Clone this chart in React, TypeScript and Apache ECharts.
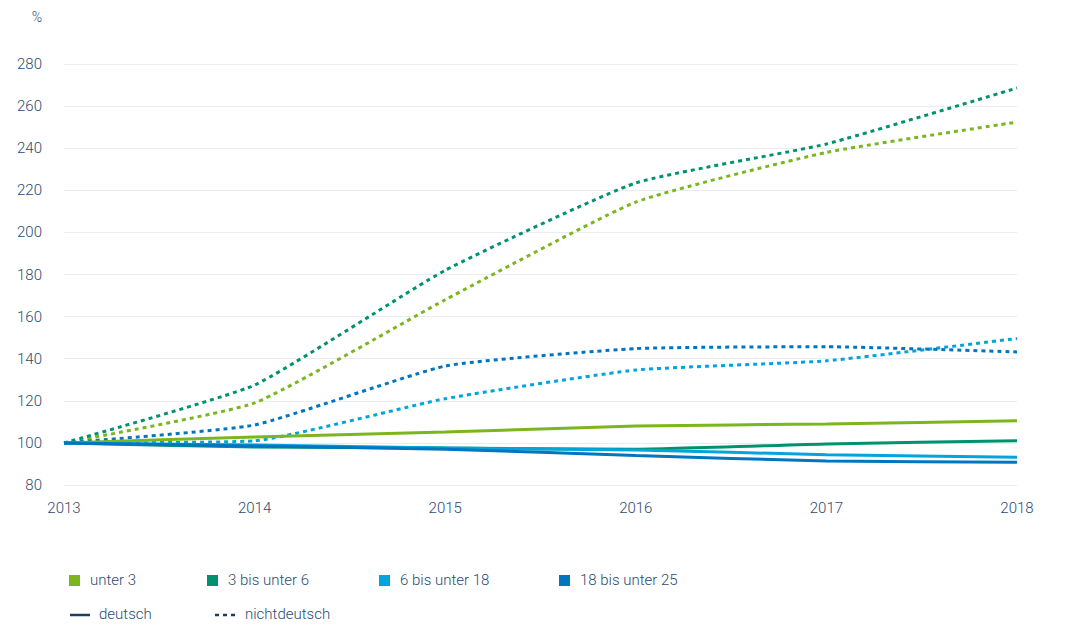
import React, { useEffect, useRef } from "react";
import * as echarts from "echarts";

const years = ["2013", "2014", "2015", "2016", "2017", "2018"];
const groups = ["unter 3", "3 bis unter 6", "6 bis unter 18", "18 bis unter 25"];
const colors = ["#7cb61e", "#00926f", "#00a5dd", "#0076bf"];

const deutschUnter3 = [100, 102.8, 105.2, 108, 109, 110.5];
const deutsch3bis6 = [100, 98, 97.6, 97, 99.5, 101];
const deutsch6bis18 = [100, 99, 97.6, 96.6, 94.4, 93.2];
const deutsch18bis25 = [100, 98.5, 97, 94, 91.4, 90.8];

const nichtUnter3 = [100, 119, 168, 214.4, 238, 252.4];
const nicht3bis6 = [100, 127.5, 182, 223.5, 242, 268.6];
const nicht6bis18 = [100, 101, 121, 134.6, 139, 149.6];
const nicht18bis25 = [100, 108.5, 136.5, 144.8, 145.7, 143.2];

const deutschData = [deutschUnter3, deutsch3bis6, deutsch6bis18, deutsch18bis25];
const nichtData = [nichtUnter3, nicht3bis6, nicht6bis18, nicht18bis25];

const textColor = "#2b4b70";
const font = "Roboto, 'Liberation Sans', Arial, sans-serif";

export default function App() {
  const ref = useRef<HTMLDivElement>(null);
  useEffect(() => {
    if (!ref.current) return;
    const chart = echarts.init(ref.current, null, { renderer: "svg" });
    const series: any[] = [];
    groups.forEach((g, i) => {
      series.push({
        name: g + " nichtdeutsch",
        type: "line",
        data: nichtData[i],
        smooth: 0.15,
        symbol: "none",
        lineStyle: { color: colors[i], width: 3, type: [4, 4], cap: "butt" },
        itemStyle: { color: colors[i] },
        z: 2,
      });
    });
    groups.forEach((g, i) => {
      series.push({
        name: g + " deutsch",
        type: "line",
        data: deutschData[i],
        smooth: 0.15,
        symbol: "none",
        lineStyle: { color: colors[i], width: 3 },
        itemStyle: { color: colors[i] },
        z: 3,
      });
    });

    const legendX = [69, 207, 379, 559];
    const graphic: any[] = [];
    groups.forEach((g, i) => {
      graphic.push({
        type: "rect",
        left: legendX[i],
        top: 575,
        shape: { width: 11, height: 11 },
        style: { fill: colors[i] },
      });
      graphic.push({
        type: "text",
        left: legendX[i] + 21,
        top: 572,
        style: { text: g, fill: textColor, font: `300 15px ${font}` },
      });
    });
    graphic.push({
      type: "line",
      shape: { x1: 70, y1: 615, x2: 90, y2: 615 },
      style: { stroke: "#1c3c68", lineWidth: 2.5 },
    });
    graphic.push({
      type: "text",
      left: 99,
      top: 606,
      style: { text: "deutsch", fill: textColor, font: `300 15px ${font}` },
    });
    graphic.push({
      type: "line",
      shape: { x1: 215, y1: 615, x2: 236, y2: 615 },
      style: { stroke: "#1c3c68", lineWidth: 2.5, lineDash: [4, 4] },
    });
    graphic.push({
      type: "text",
      left: 245,
      top: 606,
      style: { text: "nichtdeutsch", fill: textColor, font: `300 15px ${font}` },
    });

    chart.setOption({
      animation: false,
      backgroundColor: "#ffffff",
      grid: { left: 64, right: 63, top: 64, bottom: 147, containLabel: false },
      xAxis: {
        type: "category",
        data: years,
        boundaryGap: false,
        axisLine: { show: false },
        axisTick: { show: false },
        splitLine: { show: false },
        axisLabel: {
          color: textColor,
          fontSize: 15,
          fontFamily: font,
          fontWeight: 300,
          margin: 15,
        },
      },
      yAxis: {
        type: "value",
        min: 80,
        max: 280,
        interval: 20,
        name: "%",
        nameLocation: "end",
        nameGap: 40,
        nameTextStyle: {
          color: textColor,
          fontSize: 14,
          fontFamily: font,
          fontWeight: 300,
          align: "right",
          padding: [0, 22, 0, 0],
        },
        axisLine: { show: false },
        axisTick: { show: false },
        splitLine: { show: true, lineStyle: { color: "#e9edf1", width: 1 } },
        axisLabel: {
          color: textColor,
          fontSize: 15,
          fontFamily: font,
          fontWeight: 300,
          margin: 22,
        },
      },
      series,
      graphic,
    });
    return () => chart.dispose();
  }, []);
  return (
    <div
      ref={ref}
      style={{ position: "fixed", left: 0, top: 0, width: 1080, height: 632, background: "#fff" }}
    />
  );
}
